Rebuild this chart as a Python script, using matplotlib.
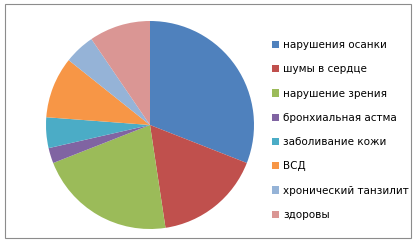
import matplotlib
matplotlib.use("Agg")
import matplotlib.pyplot as plt
from matplotlib.patches import Rectangle

labels = ["нарушения осанки", "шумы в сердце", "нарушение зрения", "бронхиальная астма",
          "заболивание кожи", "ВСД", "хронический танзилит", "здоровы"]
values = [13, 7, 9, 1, 2, 4, 2, 4]
colors = ["#4F81BD", "#C0504D", "#9BBB59", "#8064A2", "#4BACC6", "#F79646", "#95B3D7", "#DA9694"]

W, H = 418, 244
fig = plt.figure(figsize=(W / 100, H / 100), dpi=100)
fig.patch.set_facecolor("white")

# chart border
fig.add_artist(Rectangle((5 / W, 1 - 238 / H), 406 / W, 234 / H, transform=fig.transFigure,
                         fill=False, edgecolor="#8c8c8c", linewidth=0.8))

ax = fig.add_axes([(150 - 104) / W, (H - 125 - 104) / H, 208 / W, 208 / H])
wedges, _ = ax.pie(values, colors=colors, startangle=90, counterclock=False,
                   radius=1, wedgeprops=dict(linewidth=0))
ax.set_xlim(-1, 1)
ax.set_ylim(-1, 1)
ax.axis("off")

fig.legend(wedges, labels, loc="upper left", bbox_to_anchor=(272 / W, 1 - 40 / H),
           frameon=False, fontsize=7.5, handlelength=0.7, handleheight=0.7,
           handletextpad=0.4, labelspacing=1.37, borderpad=0, borderaxespad=0)

fig.savefig("out.png", dpi=100)
